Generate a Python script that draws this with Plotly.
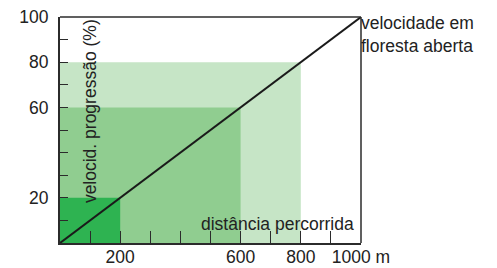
import plotly.graph_objects as go

# Data
rect_x = [800, 600, 200]      # distance extents (m)
rect_y = [80, 60, 20]         # speed extents (%)
rect_colors = ["#c6e5c6", "#90cd90", "#2eb351"]
line_x = [0, 1000]
line_y = [0, 100]
x_tickvals = [200, 600, 800, 1000]
x_ticktext = ["200", "600", "800", "1000 m"]
y_tickvals = [20, 60, 80, 100]
y_ticktext = ["20", "60", "80", "100"]

FONT = "Liberation Sans, Arial"
fs = 17.5
axcol = "#2b2b2b"

fig = go.Figure()
for xe, ye, c in zip(rect_x, rect_y, rect_colors):
    fig.add_trace(go.Scatter(x=[0, xe, xe, 0, 0], y=[0, 0, ye, ye, 0], fill="toself",
                             fillcolor=c, line=dict(width=0), mode="lines",
                             hoverinfo="skip", showlegend=False))
fig.add_trace(go.Scatter(x=line_x, y=line_y, mode="lines",
                         line=dict(color="#1a1a1a", width=2), showlegend=False))

fig.update_xaxes(range=[0, 1000], tickvals=x_tickvals, ticktext=x_ticktext,
                 ticks="inside", ticklen=12, tickwidth=1.3, tickcolor=axcol,
                 minor=dict(dtick=100, ticks="inside", ticklen=12, tickwidth=1.3, tickcolor=axcol),
                 showline=True, linecolor=axcol, linewidth=2, showgrid=False, zeroline=False,
                 automargin=False, ticklabeloverflow="allow", ticklabelstandoff=-3,
                 tickfont=dict(family=FONT, size=fs, color="#222"))
fig.update_yaxes(range=[0, 100], tickvals=y_tickvals, ticktext=y_ticktext,
                 ticks="inside", ticklen=8, tickwidth=1.3, tickcolor=axcol,
                 minor=dict(dtick=10, ticks="inside", ticklen=8, tickwidth=1.3, tickcolor=axcol),
                 showline=True, linecolor=axcol, linewidth=2, showgrid=False, zeroline=False,
                 automargin=False, ticklabeloverflow="allow", ticklabelstandoff=6,
                 tickfont=dict(family=FONT, size=fs, color="#222"))

fig.add_shape(type="line", xref="paper", yref="paper", x0=0, x1=1, y0=1, y1=1,
              line=dict(color=axcol, width=1.5))
fig.add_shape(type="line", xref="paper", yref="paper", x0=1, x1=1, y0=0, y1=1,
              line=dict(color=axcol, width=1.5))

fig.add_annotation(text="velocidade em<br>floresta aberta", x=1000, y=100, xref="x", yref="y",
                   xanchor="left", yanchor="top", showarrow=False, align="left",
                   xshift=-2, yshift=6,
                   font=dict(family=FONT, size=fs, color="#222"))
fig.add_annotation(text="distância percorrida", x=983, y=3, xref="x", yref="y",
                   xanchor="right", yanchor="bottom", showarrow=False,
                   font=dict(family=FONT, size=fs, color="#222"))
fig.add_annotation(text="velocid. progressão (%)", x=100, y=58.4, xref="x", yref="y",
                   xanchor="center", yanchor="middle", textangle=-90, showarrow=False,
                   font=dict(family=FONT, size=fs, color="#222"))

# page body has an 8px default margin: size the figure to fill the rest of the window
fig.update_layout(width=489, height=260, margin=dict(l=52, r=136, t=9, b=25),
                  plot_bgcolor="white", paper_bgcolor="white")
fig.write_html("out.html")
